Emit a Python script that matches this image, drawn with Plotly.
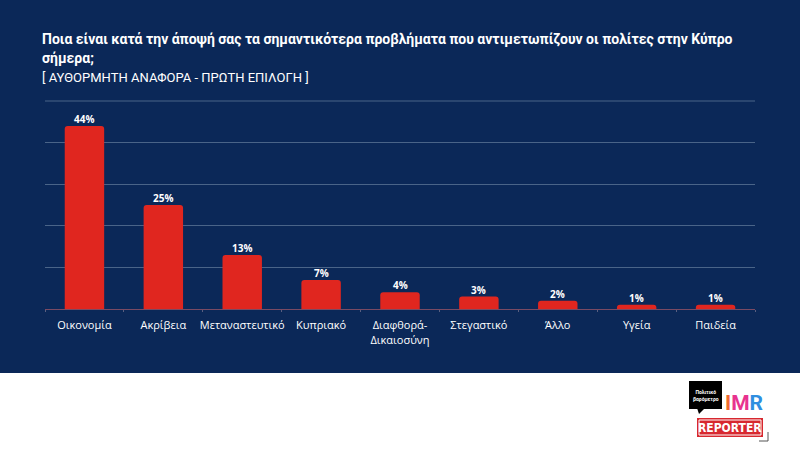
import plotly.graph_objects as go

categories = ["Οικονομία", "Ακρίβεια", "Μεταναστευτικό", "Κυπριακό", "Διαφθορά-<br>Δικαιοσύνη",
              "Στεγαστικό", "Άλλο", "Υγεία", "Παιδεία"]
values = [44, 25, 13, 7, 4, 3, 2, 1, 1]
value_labels = ["44%", "25%", "13%", "7%", "4%", "3%", "2%", "1%", "1%"]

title_line1 = "Ποια είναι κατά την άποψή σας τα σημαντικότερα προβλήματα που αντιμετωπίζουν οι πολίτες στην Κύπρο"
title_line2 = "σήμερα;"
subtitle = "[ ΑΥΘΟΡΜΗΤΗ ΑΝΑΦΟΡΑ - ΠΡΩΤΗ ΕΠΙΛΟΓΗ ]"

NAVY = "#0b2858"
RED = "#e0261f"

W, H = 800, 449
L, R, T, B = 45, 45, 101, 140
pw, ph = W - L - R, H - T - B

def px_x(x):
    return (x - L) / pw

def px_y(y):
    return (H - B - y) / ph

fig = go.Figure(go.Bar(
    x=categories, y=values, marker=dict(color=RED, line=dict(width=0)),
    width=0.5, cliponaxis=False, hoverinfo="skip",
))

# value labels above bars
for c, v, t in zip(categories, values, value_labels):
    fig.add_annotation(x=c, y=v, text="<b>" + t + "</b>", showarrow=False,
                       yanchor="bottom", yshift=-2,
                       font=dict(color="white", size=10, family="Open Sans, sans-serif"))

fig.update_layout(
    width=W, height=H, margin=dict(l=L, r=R, t=T, b=B),
    paper_bgcolor=NAVY, plot_bgcolor=NAVY, showlegend=False,
    barcornerradius=3,
    xaxis=dict(showgrid=False, showline=True, linecolor="#7a4a63", linewidth=1,
               ticks="outside", tickson="boundaries", ticklen=2, tickcolor="#5a5f80",
               tickangle=0, automargin=False, ticklabelstandoff=6,
               tickfont=dict(color="white", size=11, family="Open Sans, sans-serif"), fixedrange=True),
    yaxis=dict(range=[0, 50], dtick=10, showgrid=True, gridcolor="#4a6488", gridwidth=1,
               showticklabels=False, zeroline=False, fixedrange=True, automargin=False),
    font=dict(family="Open Sans, sans-serif"),
)

# top gridline at the range end
fig.add_shape(type="line", xref="paper", yref="paper", x0=0, x1=1, y0=1, y1=1,
              line=dict(color="#4a6488", width=1), layer="below")

# white footer band
fig.add_shape(type="rect", xref="paper", yref="paper",
              x0=px_x(0), x1=px_x(W), y0=px_y(H), y1=px_y(373),
              fillcolor="white", line=dict(width=0), layer="above")

anns = [
    dict(x=px_x(40), y=px_y(40), text="<b>" + title_line1 + "</b>", size=14, fam="Roboto, sans-serif"),
    dict(x=px_x(40), y=px_y(58), text="<b>" + title_line2 + "</b>", size=14, fam="Roboto, sans-serif"),
    dict(x=px_x(40), y=px_y(77), text=subtitle, size=13, fam="Roboto, sans-serif"),
]
for a in anns:
    fig.add_annotation(xref="paper", yref="paper", x=a["x"], y=a["y"], text=a["text"],
                       showarrow=False, xanchor="left", yanchor="middle",
                       font=dict(color="white", size=a["size"], family=a["fam"]))

# logo
fig.add_shape(type="rect", xref="paper", yref="paper",
              x0=px_x(689), x1=px_x(722), y0=px_y(409), y1=px_y(381),
              fillcolor="black", line=dict(width=0), layer="above")
fig.add_shape(type="path", xref="paper", yref="paper",
              path=f"M {px_x(697)},{px_y(408)} L {px_x(705)},{px_y(408)} L {px_x(699)},{px_y(414)} Z",
              fillcolor="black", line=dict(width=0), layer="above")
fig.add_annotation(xref="paper", yref="paper", x=px_x(705.5), y=px_y(395), showarrow=False,
                   text="<b>Πολιτικό<br>βαρόμετρο</b>", font=dict(color="white", size=5, family="Roboto"),
                   xanchor="center", yanchor="middle")
fig.add_annotation(xref="paper", yref="paper", x=px_x(744), y=px_y(403), showarrow=False,
                   text="<b><span style='color:#f26a2e'>I</span><span style='color:#e8338f'>M</span><span style='color:#2f8ee0'>R</span></b>",
                   font=dict(size=21, family="Roboto, sans-serif", weight=900), xanchor="center", yanchor="middle")
fig.add_shape(type="rect", xref="paper", yref="paper",
              x0=px_x(697), x1=px_x(763), y0=px_y(437), y1=px_y(418),
              fillcolor="#d7282f", line=dict(width=0), layer="above")
fig.add_shape(type="rect", xref="paper", yref="paper",
              x0=px_x(699), x1=px_x(761), y0=px_y(435), y1=px_y(420),
              fillcolor="#d7282f", line=dict(width=1, color="white"), layer="above")
fig.add_annotation(xref="paper", yref="paper", x=px_x(730), y=px_y(427.5), showarrow=False,
                   text="<b>REPORTER</b>", font=dict(color="white", size=12, family="DejaVu Sans Condensed, Roboto"),
                   xanchor="center", yanchor="middle")
fig.add_shape(type="path", xref="paper", yref="paper",
              path=f"M {px_x(768)},{px_y(432)} L {px_x(768)},{px_y(441)} L {px_x(759)},{px_y(441)}",
              line=dict(width=1, color="#555555"), layer="above")

fig.write_html("out.html", config={"displayModeBar": False, "staticPlot": True},
               post_script="document.body.style.margin='0';document.body.style.padding='0';")
